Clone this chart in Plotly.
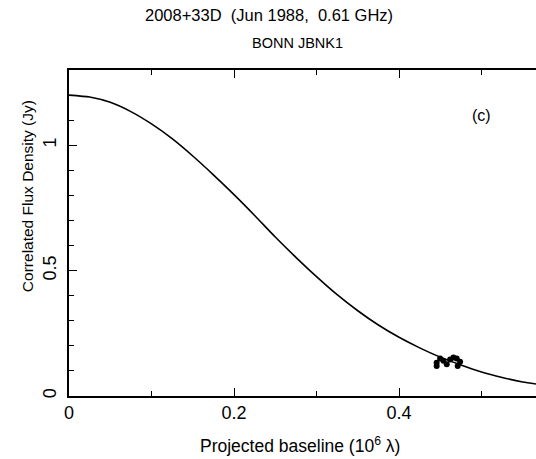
import plotly.graph_objects as go

# Model curve (baseline in 10^6 lambda, flux in Jy)
curve_x = [0.0, 0.025, 0.05, 0.075, 0.10, 0.125, 0.15, 0.175, 0.20, 0.225, 0.25,
           0.275, 0.30, 0.325, 0.35, 0.375, 0.40, 0.425, 0.45, 0.475, 0.50,
           0.525, 0.55, 0.566]
curve_y = [1.200, 1.192, 1.171, 1.134, 1.085, 1.026, 0.957, 0.882, 0.803, 0.720,
           0.634, 0.553, 0.476, 0.404, 0.340, 0.283, 0.234, 0.192, 0.155, 0.124,
           0.096, 0.074, 0.056, 0.048]

# Measured points
pts_x = [0.4456, 0.4456, 0.4498, 0.4538, 0.4578, 0.4619, 0.4659, 0.4699, 0.4711, 0.4740]
pts_y = [0.133, 0.120, 0.150, 0.141, 0.127, 0.146, 0.154, 0.150, 0.120, 0.137]

title_main = "2008+33D\u00a0\u00a0(Jun 1988,\u00a0\u00a00.61 GHz)"
title_sub = "BONN JBNK1"
x_title = "Projected baseline (10<sup>6</sup> \u03bb)"
y_title = "Correlated Flux Density (Jy)"
panel_label = "(c)"

FONT = "Liberation Sans, DejaVu Sans, sans-serif"

fig = go.Figure()
fig.add_trace(go.Scatter(x=curve_x, y=curve_y, mode="lines",
                         line=dict(color="black", width=1.6, shape="spline", smoothing=0.6),
                         hoverinfo="skip", showlegend=False))
fig.add_trace(go.Scatter(x=pts_x, y=pts_y, mode="markers",
                         marker=dict(color="black", size=6),
                         showlegend=False))

fig.update_layout(
    width=536, height=459,
    margin=dict(l=69, r=0, t=70, b=63),
    paper_bgcolor="white", plot_bgcolor="white",
    font=dict(family=FONT, color="black", size=15),
    xaxis=dict(range=[0, 0.566], tickvals=[0, 0.2, 0.4], ticktext=["0", "0.2", "0.4"],
               ticks="inside", ticklen=8, tickwidth=1.2, tickcolor="black",
               minor=dict(dtick=0.1, tick0=0, ticks="inside", ticklen=5,
                          tickwidth=1.2, tickcolor="black"),
               showline=True, linecolor="black", linewidth=1.5, mirror="ticks",
               showgrid=False, zeroline=False, tickfont=dict(size=18)),
    yaxis=dict(range=[0, 1.3], tickvals=[0, 0.5, 1], ticktext=["0", "0.5", "1"],
               ticks="inside", ticklen=8, tickwidth=1.2, tickcolor="black",
               minor=dict(dtick=0.1, tick0=0, ticks="inside", ticklen=5,
                          tickwidth=1.2, tickcolor="black"),
               showline=True, linecolor="black", linewidth=1.5, mirror=False,
               showgrid=False, zeroline=False, tickangle=-90, tickfont=dict(size=18),
               ticklabelstandoff=4),
    annotations=[
        dict(text=title_main, xref="paper", yref="paper", x=0.428, y=1.169,
             xanchor="center", yanchor="middle", showarrow=False, font=dict(size=16.5)),
        dict(text=title_sub, xref="paper", yref="paper", x=0.490, y=1.083,
             xanchor="center", yanchor="middle", showarrow=False, font=dict(size=14.5)),
        dict(text=x_title, xref="paper", yref="paper", x=0.495, y=-0.150,
             xanchor="center", yanchor="middle", showarrow=False, font=dict(size=17.5)),
        dict(text=y_title, xref="paper", yref="paper", x=-0.090, y=0.613,
             xanchor="center", yanchor="middle", showarrow=False, textangle=-90,
             font=dict(size=15.5)),
        dict(text=panel_label, xref="x", yref="y", x=0.5, y=1.12,
             xanchor="center", yanchor="middle", showarrow=False, font=dict(size=16)),
    ],
)

fig.write_html("out.html")
